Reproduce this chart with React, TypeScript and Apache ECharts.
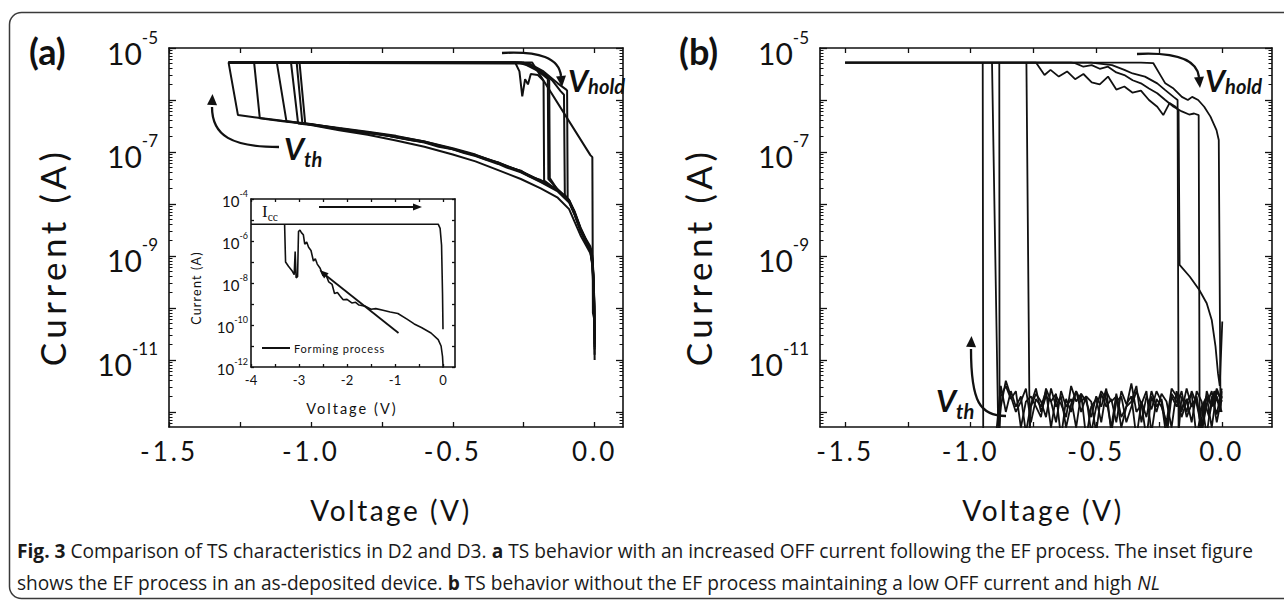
import React, { useEffect, useRef } from 'react';
import * as echarts from 'echarts';

type Pt = [number, number]; // [voltage (V), log10 of current (A)]

// ---------------- Axis values ----------------
const mainXTicks = [-1.5, -1.25, -1.0, -0.75, -0.5, -0.25, 0];
const mainXLabels = [-1.5, -1.0, -0.5, 0];
const mainYTicks = [-5, -6, -7, -8, -9, -10, -11, -12];
const mainYLabels = [-5, -7, -9, -11];
const insetXTicks = [-4, -3.5, -3, -2.5, -2, -1.5, -1, -0.5, 0];
const insetXLabels = [-4, -3, -2, -1, 0];
const insetYTicks = [-4, -5, -6, -7, -8, -9, -10, -11, -12];
const insetYLabels = [-4, -6, -8, -10, -12];

// ---------------- Panel (a): six TS sweeps (D2) ----------------
const aCycle1: Pt[] = [
  [0, -10.8], [-0.001, -10.0], [-0.004, -9.4], [-0.008, -9.05], [-0.015, -8.85], [-0.03, -8.72],
  [-0.05, -8.5], [-0.07, -8.2], [-0.09, -7.95], [-0.13, -7.74], [-0.19, -7.56], [-0.26, -7.37],
  [-0.34, -7.21], [-0.42, -7.05], [-0.5, -6.93], [-0.6, -6.8], [-0.7, -6.7], [-0.8, -6.62],
  [-0.9, -6.55], [-1.0, -6.46], [-1.1, -6.4], [-1.2, -6.33], [-1.257, -6.29],
  [-1.29, -5.28], [-0.27, -5.28], [-0.24, -5.33], [-0.2, -5.44], [-0.175, -5.53], [-0.165, -5.58],
  [-0.163, -7.52], [-0.13, -7.72], [-0.09, -7.93], [-0.07, -8.18], [-0.05, -8.48], [-0.03, -8.7],
  [-0.015, -8.85], [-0.008, -9.1], [-0.003, -9.6], [0, -10.4],
];
const aCycle2: Pt[] = [
  [0, -10.6], [-0.001, -9.9], [-0.004, -9.35], [-0.008, -9.0], [-0.015, -8.82], [-0.03, -8.68],
  [-0.05, -8.45], [-0.07, -8.15], [-0.09, -7.92], [-0.13, -7.72], [-0.19, -7.54], [-0.23, -7.47],
  [-0.26, -7.36], [-0.3, -7.3], [-0.34, -7.2], [-0.38, -7.15], [-0.42, -7.07], [-0.5, -6.95],
  [-0.55, -6.9], [-0.6, -6.82], [-0.7, -6.72], [-0.75, -6.66], [-0.8, -6.64], [-0.9, -6.57],
  [-1.0, -6.47], [-1.1, -6.41], [-1.18, -6.35],
  [-1.2, -5.28], [-1.29, -5.28], [-0.28, -5.28], [-0.265, -5.45], [-0.255, -5.93], [-0.245, -5.6],
  [-0.235, -5.7], [-0.225, -5.5], [-0.2, -5.52], [-0.185, -5.6], [-0.18, -5.64],
  [-0.178, -7.55], [-0.13, -7.74], [-0.09, -7.94], [-0.07, -8.2], [-0.05, -8.5], [-0.03, -8.72],
  [-0.015, -8.9], [-0.008, -9.15], [-0.003, -9.7], [0, -10.5],
];
const aCycle3: Pt[] = [
  [0, -11.0], [-0.001, -10.2], [-0.004, -9.5], [-0.008, -9.1], [-0.015, -8.88], [-0.03, -8.74],
  [-0.05, -8.52], [-0.07, -8.22], [-0.09, -7.97], [-0.13, -7.76], [-0.19, -7.58], [-0.26, -7.39],
  [-0.31, -7.3], [-0.34, -7.23], [-0.42, -7.08], [-0.46, -7.02], [-0.5, -6.95], [-0.6, -6.81],
  [-0.65, -6.77], [-0.7, -6.71], [-0.8, -6.63], [-0.85, -6.6], [-0.9, -6.56], [-1.0, -6.47],
  [-1.086, -6.41],
  [-1.12, -5.28], [-1.29, -5.28], [-0.25, -5.28], [-0.2, -5.4], [-0.15, -5.62], [-0.12, -5.83],
  [-0.108, -5.9], [-0.105, -7.82], [-0.09, -7.96], [-0.07, -8.22], [-0.05, -8.52], [-0.03, -8.74],
  [-0.015, -8.9], [-0.008, -9.2], [-0.003, -9.8], [0, -10.7],
];
const aCycle4: Pt[] = [
  [0, -10.9], [-0.001, -10.1], [-0.004, -9.5], [-0.008, -9.15], [-0.015, -8.95], [-0.03, -8.8],
  [-0.05, -8.6], [-0.07, -8.35], [-0.09, -8.1], [-0.13, -7.88], [-0.19, -7.7], [-0.26, -7.52],
  [-0.34, -7.35], [-0.42, -7.18], [-0.5, -7.05], [-0.6, -6.9], [-0.7, -6.78], [-0.8, -6.67],
  [-0.9, -6.58], [-1.0, -6.48], [-1.045, -6.45],
  [-1.07, -5.28], [-1.29, -5.28], [-0.23, -5.3], [-0.18, -5.45], [-0.13, -5.68], [-0.1, -5.8],
  [-0.097, -5.82], [-0.095, -7.9], [-0.07, -8.17], [-0.05, -8.47], [-0.03, -8.7], [-0.015, -8.86],
  [-0.008, -9.1], [-0.003, -9.6], [0, -10.6],
];
const aCycle5: Pt[] = [
  [0, -10.7], [-0.001, -10.0], [-0.004, -9.45], [-0.008, -9.08], [-0.015, -8.87], [-0.03, -8.73],
  [-0.05, -8.48], [-0.07, -8.17], [-0.09, -7.93], [-0.13, -7.73], [-0.19, -7.55], [-0.26, -7.37],
  [-0.34, -7.2], [-0.42, -7.06], [-0.5, -6.94], [-0.6, -6.8], [-0.7, -6.69], [-0.8, -6.61],
  [-0.9, -6.54], [-1.02, -6.45],
  [-1.04, -5.28], [-1.29, -5.28], [-0.22, -5.28], [-0.015, -7.06], [-0.008, -7.1], [-0.006, -10.1],
  [-0.002, -10.2], [0, -10.3],
];
const aCycle6: Pt[] = [
  [0, -10.75], [-0.001, -9.95], [-0.004, -9.42], [-0.008, -9.06], [-0.015, -8.86], [-0.03, -8.71],
  [-0.05, -8.47], [-0.07, -8.19], [-0.09, -7.94], [-0.13, -7.73], [-0.19, -7.57], [-0.26, -7.38],
  [-0.34, -7.22], [-0.42, -7.06], [-0.5, -6.94], [-0.6, -6.81], [-0.7, -6.71], [-0.8, -6.63],
  [-0.9, -6.55], [-1.03, -6.45],
  [-1.05, -5.28], [-1.29, -5.28], [-0.26, -5.28], [-0.22, -5.36], [-0.19, -5.48], [-0.17, -5.57],
  [-0.16, -5.62], [-0.158, -7.5], [-0.13, -7.73], [-0.09, -7.94], [-0.07, -8.19], [-0.05, -8.49],
  [-0.03, -8.71], [-0.015, -8.88], [-0.008, -9.12], [-0.003, -9.65], [0, -10.45],
];

// ---------------- Inset: forming process (as-deposited device) ----------------
const formingSweep: Pt[] = [
  [0, -12.3], [0, -11.9], [-0.01, -11.5], [-0.04, -11.0], [-0.1, -10.7], [-0.25, -10.38],
  [-0.45, -10.12], [-0.6, -9.95], [-0.75, -9.72], [-0.94, -9.45], [-1.1, -9.38], [-1.25, -9.3],
  [-1.4, -9.22], [-1.5, -9.25], [-1.62, -9.1], [-1.75, -9.05], [-1.82, -8.92], [-1.9, -8.95],
  [-2.0, -8.78], [-2.08, -8.8], [-2.14, -8.63], [-2.2, -8.45], [-2.26, -8.5], [-2.31, -8.07],
  [-2.38, -7.95], [-2.44, -7.6], [-2.5, -7.65], [-2.56, -7.3], [-2.62, -7.1], [-2.66, -6.85],
  [-2.7, -6.95], [-2.75, -6.45], [-2.8, -6.3], [-2.84, -6.05], [-2.88, -6.15], [-2.91, -5.7],
  [-2.95, -5.6], [-2.98, -5.48], [-3.01, -5.55], [-3.03, -7.7], [-3.06, -7.75], [-3.08, -6.5],
  [-3.1, -7.6], [-3.15, -7.4], [-3.22, -7.2], [-3.28, -7.0], [-3.3, -5.2], [-4.0, -5.2],
  [-0.1, -5.2], [-0.06, -5.4], [-0.03, -6.2], [-0.01, -8.5], [0, -10.2],
];

// ---------------- Panel (b): four TS sweeps (D3) ----------------
// OFF-state floor, sampled at these voltages
const floorVolts = [
  0, -0.02, -0.04, -0.06, -0.08, -0.1, -0.12, -0.14, -0.16, -0.18, -0.2, -0.22, -0.24, -0.26, -0.28,
  -0.3, -0.32, -0.34, -0.36, -0.38, -0.4, -0.42, -0.44, -0.46, -0.48, -0.5, -0.52, -0.54, -0.56,
  -0.58, -0.6, -0.62, -0.64, -0.66, -0.68, -0.7, -0.72, -0.74, -0.76, -0.78, -0.8, -0.82, -0.84,
  -0.86, -0.88,
];
const bFloor1 = [
  -11.55, -12.05, -11.7, -12.45, -11.8, -11.6, -12.2, -11.75, -11.95, -11.6, -12.3, -11.8, -11.65,
  -12.0, -11.7, -12.5, -11.85, -11.6, -11.9, -12.2, -11.7, -11.8, -12.4, -11.55, -11.9, -11.7,
  -12.1, -11.8, -11.65, -12.3, -11.75, -11.9, -11.6, -12.2, -11.8, -11.7, -12.0, -11.55, -11.85,
  -12.4, -11.7, -11.9, -11.6, -12.0, -11.5,
];
const bFloor2 = [
  -11.8, -11.6, -12.3, -11.7, -11.9, -12.5, -11.65, -11.8, -12.1, -11.7, -11.55, -12.2, -11.9,
  -11.75, -12.4, -11.6, -11.85, -12.0, -11.45, -11.9, -12.3, -11.7, -11.8, -11.6, -12.2, -11.75,
  -11.9, -12.5, -11.65, -11.8, -11.5, -12.1, -11.85, -11.7, -12.3, -11.6, -11.9, -11.75, -12.2,
  -11.55, -11.8, -12.0, -11.7, -11.4, -11.9,
];
const bFloor3 = [
  -12.0, -11.7, -11.9, -11.6, -12.4, -11.75, -11.85, -12.1, -11.6, -11.9, -11.7, -12.5, -11.8,
  -11.6, -11.95, -11.7, -12.2, -11.5, -11.8, -11.9, -12.1, -11.65, -12.3, -11.75, -11.6, -11.9,
  -12.4, -11.7, -11.8, -11.6, -12.0, -11.75, -12.5, -11.65, -11.8, -11.55, -12.1, -11.9, -11.7,
  -11.8, -12.3, -11.6, -11.75, -11.5, -11.7,
];
const bFloor4 = [
  -11.7, -12.2, -11.6, -11.85, -12.4, -11.7, -11.9, -11.55, -12.0, -11.8, -11.65, -12.3, -11.75,
  -11.9, -11.6, -12.1, -11.8, -12.5, -11.7, -11.85, -11.6, -12.2, -11.75, -11.9, -11.65, -12.4,
  -11.8, -11.7, -12.0, -11.6, -11.85, -12.3, -11.7, -11.9, -11.55, -12.1, -11.8, -11.65, -11.9,
];
// switching part of each sweep: threshold jump, compliance, hold and return
const bSwitch1: Pt[] = [
  [-0.9, -12.5], [-0.95, -12.5], [-0.952, -5.28], [-1.5, -5.28], [-0.74, -5.28], [-0.706, -5.52],
  [-0.682, -5.42], [-0.649, -5.55], [-0.616, -5.45], [-0.584, -5.6], [-0.551, -5.5], [-0.518, -5.66],
  [-0.486, -5.7], [-0.453, -5.55], [-0.42, -5.8], [-0.388, -5.74], [-0.355, -5.86], [-0.322, -5.82],
  [-0.29, -6.0], [-0.257, -6.13], [-0.233, -6.29], [-0.208, -6.06], [-0.184, -6.13], [-0.172, -6.2],
  [-0.168, -9.17], [-0.127, -9.4], [-0.09, -9.65], [-0.06, -9.91], [-0.04, -10.23], [-0.025, -10.74],
  [-0.015, -11.26], [-0.008, -11.5], [0.002, -10.26],
];
const bSwitch2: Pt[] = [
  [-0.89, -12.4], [-0.915, -5.28], [-1.5, -5.28], [-0.6, -5.28], [-0.584, -5.29], [-0.551, -5.36],
  [-0.518, -5.33], [-0.486, -5.4], [-0.453, -5.36], [-0.42, -5.47], [-0.388, -5.52], [-0.355, -5.62],
  [-0.322, -5.68], [-0.29, -5.78], [-0.257, -5.87], [-0.225, -6.0], [-0.192, -6.13], [-0.159, -6.22],
  [-0.13, -6.28], [-0.11, -6.26], [-0.092, -6.29], [-0.088, -12.4], [-0.07, -11.8], [-0.05, -12.1],
  [-0.03, -11.6], [-0.01, -11.9], [0, -11.7],
];
const bSwitch3: Pt[] = [
  [-0.885, -12.4], [-0.886, -5.28], [-1.5, -5.28], [-0.52, -5.28], [-0.437, -5.33], [-0.388, -5.42],
  [-0.355, -5.49], [-0.306, -5.55], [-0.257, -5.68], [-0.225, -5.81], [-0.192, -5.94], [-0.176, -6.0],
  [-0.172, -12.4], [-0.16, -11.7], [-0.14, -12.0], [-0.12, -11.6], [-0.1, -11.85], [-0.08, -12.3],
  [-0.06, -11.7], [-0.04, -11.9], [-0.02, -11.55], [0, -11.8],
];
const bSwitch4: Pt[] = [
  [-0.765, -12.4], [-0.778, -5.28], [-1.5, -5.28], [-0.322, -5.28], [-0.273, -5.29], [-0.241, -5.55],
  [-0.225, -5.68], [-0.192, -5.78], [-0.159, -5.94], [-0.135, -6.0], [-0.118, -5.94], [-0.094, -6.0],
  [-0.07, -6.13], [-0.045, -6.32], [-0.021, -6.58], [-0.012, -6.77], [-0.005, -12.0], [0, -11.6],
];

// ---------------- Styling ----------------
const FONT = 'Lato, "Open Sans", sans-serif';
const INK = '#111111';
const CSS = `
#root svg text[style*="26px"] { letter-spacing: 3px; }
#root svg text[style*="28px"] { letter-spacing: 2.5px; }
#root svg text[style*="35px"] { letter-spacing: 4.5px; }
#root svg text[style*="14.5px"] { letter-spacing: 2px; }
#root svg text[style*="12.5px"] { letter-spacing: 1.2px; }
#root svg text[style*="11px"] { letter-spacing: 0.8px; }
`;

const minorLogTicks = (lo: number, hi: number) => {
  const out: number[] = [];
  for (let n = Math.floor(lo) - 1; n <= Math.ceil(hi); n++) {
    for (let k = 2; k <= 9; k++) {
      const v = n + Math.log10(k);
      if (v > lo + 1e-6 && v < hi - 1e-6) out.push(v);
    }
  }
  return out;
};

const lineStyleAxis = { color: INK, width: 1.6 };
const tickLine = { color: INK, width: 1.3 };

function xAxes(gridIndex: number, min: number, max: number, ticks: number[], labels: number[],
  fmt: (v: number) => string, labelStyle: any, tickLen: number) {
  const base = {
    type: 'value', gridIndex, min, max,
    axisLine: { show: true, onZero: false, lineStyle: lineStyleAxis },
    axisTick: { show: true, inside: true, length: tickLen, customValues: ticks, lineStyle: tickLine },
    splitLine: { show: false },
  };
  return [
    { ...base, position: 'bottom', axisLabel: { show: true, customValues: labels, formatter: fmt, ...labelStyle } },
    { ...base, position: 'top', axisLabel: { show: false } },
  ];
}

function yAxes(gridIndex: number, min: number, max: number, ticks: number[], labels: number[],
  labelStyle: any, tickLen: number, minor: number[] | null) {
  const base = {
    type: 'value', gridIndex, min, max,
    axisLine: { show: true, onZero: false, lineStyle: lineStyleAxis },
    axisTick: { show: true, inside: true, length: tickLen, customValues: ticks, lineStyle: tickLine },
    splitLine: { show: false },
  };
  const out: any[] = [
    { ...base, position: 'left', axisLabel: { show: true, customValues: labels,
      formatter: (v: number) => `{b|10}{s|${Math.round(v)}}`, ...labelStyle } },
    { ...base, position: 'right', axisLabel: { show: false } },
  ];
  if (minor) {
    const mb = {
      type: 'value', gridIndex, min, max,
      axisLine: { show: false, onZero: false },
      axisTick: { show: true, inside: true, length: 3.5, customValues: minor, lineStyle: { color: INK, width: 1 } },
      axisLabel: { show: false }, splitLine: { show: false },
    };
    out.push({ ...mb, position: 'left' }, { ...mb, position: 'right' });
  }
  return out;
}

const sweep = (data: Pt[], xi: number, yi: number, width = 2) => ({
  type: 'line', data, xAxisIndex: xi, yAxisIndex: yi, symbol: 'none', showSymbol: false,
  clip: true, silent: true, z: 3, lineStyle: { color: INK, width },
});

const txt = (x: number, y: number, text: string, extra: any, opts: any = {}) => ({
  type: 'text', x, y, z: 20, silent: true, ...opts,
  style: {
    text, fill: INK, fontFamily: FONT, align: 'left', verticalAlign: 'middle',
    textAlign: 'left', textVerticalAlign: 'middle', ...extra,
  },
});

const arrowHead = (tip: [number, number], from: [number, number], len = 11, half = 5) => {
  const dx = tip[0] - from[0], dy = tip[1] - from[1];
  const L = Math.hypot(dx, dy);
  const ux = dx / L, uy = dy / L;
  const bx = tip[0] - ux * len, by = tip[1] - uy * len;
  return {
    type: 'polygon', z: 21, silent: true,
    shape: { points: [tip, [bx - uy * half, by + ux * half], [bx + uy * half, by - ux * half]] },
    style: { fill: INK },
  };
};
const curve = (x1: number, y1: number, c1x: number, c1y: number, c2x: number, c2y: number, x2: number, y2: number, w = 2.3) => ({
  type: 'bezierCurve', z: 21, silent: true,
  shape: { x1, y1, cpx1: c1x, cpy1: c1y, cpx2: c2x, cpy2: c2y, x2, y2 },
  style: { stroke: INK, lineWidth: w, fill: 'none' },
});
const seg = (x1: number, y1: number, x2: number, y2: number, w = 1.8) => ({
  type: 'line', z: 21, silent: true, shape: { x1, y1, x2, y2 }, style: { stroke: INK, lineWidth: w },
});

export default function App() {
  const ref = useRef<HTMLDivElement>(null);

  useEffect(() => {
    if (!ref.current) return;
    const chart = echarts.init(ref.current, null, { renderer: 'svg' });

    const bigXLabel = { fontSize: 26, fontFamily: FONT, color: INK, margin: 11 };
    const bigYLabel = {
      margin: 11,
      rich: {
        b: { fontSize: 30, fontFamily: FONT, color: INK, padding: [9, 0, 0, 0] },
        s: { fontSize: 17, fontFamily: FONT, color: INK, padding: [0, 0, 22, 0] },
      },
    };
    const insetXLabel = { fontSize: 13, fontFamily: FONT, color: INK, margin: 6 };
    const insetYLabel = {
      margin: 3,
      rich: {
        b: { fontSize: 15, fontFamily: FONT, color: INK, padding: [4, 0, 0, 0] },
        s: { fontSize: 9, fontFamily: FONT, color: INK, padding: [0, 0, 11, 0] },
      },
    };
    const fmt1 = (v: number) => v.toFixed(1);
    const fmt0 = (v: number) => String(Math.round(v));

    const xAxis = [
      ...xAxes(0, -1.5, 0.1, mainXTicks, mainXLabels, fmt1, bigXLabel, 5),
      ...xAxes(1, -4, 0.25, insetXTicks, insetXLabels, fmt0, insetXLabel, 3),
      ...xAxes(2, -1.6, 0.2, mainXTicks, mainXLabels, fmt1, bigXLabel, 5),
    ];
    const yAxis = [
      ...yAxes(0, -12.29, -5, mainYTicks, mainYLabels, bigYLabel, 7, minorLogTicks(-12.29, -5)),
      ...yAxes(1, -12, -4, insetYTicks, insetYLabels, insetYLabel, 3, null),
      ...yAxes(2, -12.29, -5, mainYTicks, mainYLabels, bigYLabel, 7, minorLogTicks(-12.29, -5)),
    ];
    // y indices: 0-3 panel a, 4-5 inset, 6-9 panel b; x indices: 0-1 a, 2-3 inset, 4-5 b

    const bCycle = (floor: number[], sw: Pt[]): Pt[] => [
      ...floor.map((v, i) => [floorVolts[i], v] as Pt), ...sw,
    ];

    const series = [
      ...[aCycle1, aCycle2, aCycle3, aCycle4, aCycle5, aCycle6].map((d) => sweep(d, 0, 0, 2)),
      sweep(formingSweep, 2, 4, 1.6),
      sweep(bCycle(bFloor1, bSwitch1), 4, 6, 1.8),
      sweep(bCycle(bFloor2, bSwitch2), 4, 6, 1.8),
      sweep(bCycle(bFloor3, bSwitch3), 4, 6, 1.8),
      sweep(bCycle(bFloor4, bSwitch4), 4, 6, 1.8),
    ];

    // caption width fitting
    const ctx = document.createElement('canvas').getContext('2d')!;
    const CAP = 20;
    const capFamily = '"Open Sans", sans-serif';
    const measure = (parts: [string, string][]) => {
      let w = 0;
      for (const [f, t] of parts) { ctx.font = `${f} ${CAP}px ${capFamily}`; w += ctx.measureText(t).width; }
      return w;
    };
    const l1a = 'Fig. 3', l1b = ' Comparison of TS characteristics in D2 and D3. ', l1c = 'a',
      l1d = ' TS behavior with an increased OFF current following the EF process. The inset figure';
    const w1 = measure([['bold', l1a], ['normal', l1b], ['bold', l1c], ['normal', l1d]]);
    const capScale = w1 > 0 ? 1236 / w1 : 0.85;
    const capRich = {
      b: { fontWeight: 'bold', fontSize: CAP, fontFamily: capFamily, fill: '#1a1a1a', textFill: '#1a1a1a' },
      i: { fontStyle: 'italic', fontSize: CAP, fontFamily: capFamily, fill: '#1a1a1a', textFill: '#1a1a1a' },
    };

    const vRich = (sub: number) => ({
      v: { fontSize: 31, fontWeight: 'bold', fontStyle: 'italic', fontFamily: FONT, fill: INK, textFill: INK },
      s: { fontSize: 20, fontWeight: 'bold', fontStyle: 'italic', fontFamily: FONT, fill: INK, textFill: INK,
        verticalAlign: 'bottom', padding: [sub, 0, 0, 0] },
    });

    const graphic = [
      { type: 'rect', z: 1, silent: true, shape: { x: 9.5, y: 12.5, width: 1300, height: 586, r: 12 },
        style: { fill: 'none', stroke: '#3a3a3a', lineWidth: 1.5 } },
      txt(29, 51, '(a)', { fontSize: 36, fontWeight: 'bold' }),
      txt(679, 51, '(b)', { fontSize: 36, fontWeight: 'bold' }),
      txt(52, 257, 'Current (A)', { fontSize: 35, align: 'center', textAlign: 'center' }, { rotation: Math.PI / 2 }),
      txt(698, 257, 'Current (A)', { fontSize: 35, align: 'center', textAlign: 'center' }, { rotation: Math.PI / 2 }),
      txt(391, 510, 'Voltage (V)', { fontSize: 28, align: 'center', textAlign: 'center' }),
      txt(1043, 510, 'Voltage (V)', { fontSize: 28, align: 'center', textAlign: 'center' }),
      // V_hold annotations
      txt(568, 80, '{v|V}{s|hold}', { rich: vRich(0) }),
      txt(1205, 80, '{v|V}{s|hold}', { rich: vRich(0) }),
      curve(502, 53, 540, 51, 559, 58, 561, 76),
      arrowHead([562, 87], [561, 76]),
      curve(1137, 54, 1178, 52, 1197, 60, 1199, 77),
      arrowHead([1200, 88], [1199, 77]),
      // V_th annotations
      txt(284, 148, '{v|V}{s|th}', { rich: vRich(22) }),
      txt(936, 400, '{v|V}{s|th}', { rich: vRich(22) }),
      curve(279, 147, 232, 147, 212, 136, 212, 107),
      arrowHead([212.5, 94], [212, 107]),
      curve(1006, 416, 980, 416, 971, 402, 971, 349),
      arrowHead([971.5, 336], [971, 349]),
      // inset annotations
      txt(262, 211, '{i|I}{c|cc}', {
        rich: {
          i: { fontSize: 17, fontFamily: '"Liberation Serif", serif', fill: INK, textFill: INK },
          c: { fontSize: 11.5, fontFamily: '"Liberation Serif", serif', fill: INK, textFill: INK,
            verticalAlign: 'bottom', padding: [12, 0, 0, 0] },
        },
      }),
      seg(319, 207, 413, 207, 1.8),
      arrowHead([422, 207], [413, 207], 9, 3.5),
      seg(398.5, 333, 326, 275.5, 1.8),
      arrowHead([319.5, 270], [326, 275.5], 9, 3.5),
      seg(262, 348, 290, 348, 2),
      txt(294, 348, 'Forming process', { fontSize: 11 }),
      txt(352, 408, 'Voltage (V)', { fontSize: 14.5, align: 'center', textAlign: 'center' }),
      txt(196, 288, 'Current (A)', { fontSize: 12.5, align: 'center', textAlign: 'center' }, { rotation: Math.PI / 2 }),
      // caption
      txt(17, 550, `{b|${l1a}}${l1b}{b|${l1c}}${l1d}`,
        { fontSize: CAP, fontFamily: capFamily, fill: '#1a1a1a', rich: capRich }, { scaleX: capScale }),
      txt(17, 582, 'shows the EF process in an as-deposited device. {b|b} TS behavior without the EF process maintaining a low OFF current and high {i|NL}',
        { fontSize: CAP, fontFamily: capFamily, fill: '#1a1a1a', rich: capRich }, { scaleX: capScale }),
    ];

    chart.setOption({
      animation: false,
      backgroundColor: '#ffffff',
      grid: [
        { left: 169, top: 48, width: 454, height: 379, outerBoundsMode: 'none' },
        { left: 251, top: 199, width: 204, height: 168, show: true, backgroundColor: '#ffffff', borderWidth: 0, outerBoundsMode: 'none' },
        { left: 820, top: 48, width: 452, height: 379, outerBoundsMode: 'none' },
      ],
      xAxis,
      yAxis,
      series,
      graphic,
    });

    return () => chart.dispose();
  }, []);

  return (
    <>
      <style>{CSS}</style>
      <div ref={ref} style={{ position: 'fixed', left: 0, top: 0, width: 1284, height: 603, background: '#fff' }} />
    </>
  );
}
